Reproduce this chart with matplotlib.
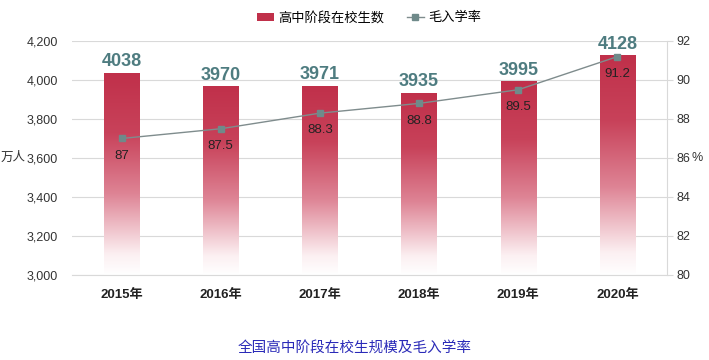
import matplotlib
matplotlib.use("Agg")
import matplotlib.pyplot as plt
import numpy as np
from matplotlib.colors import LinearSegmentedColormap
from matplotlib.patches import Patch
from matplotlib.lines import Line2D

plt.rcParams["font.family"] = ["Liberation Sans", "Noto Sans CJK SC", "DejaVu Sans"]

years = ["2015年", "2016年", "2017年", "2018年", "2019年", "2020年"]
students = [4038, 3970, 3971, 3935, 3995, 4128]
enroll_rate = [87, 87.5, 88.3, 88.8, 89.5, 91.2]

BAR_COLOR = "#c0304a"
LINE_COLOR = "#7f8c8d"
LABEL_COLOR = "#4e7c80"

fig = plt.figure(figsize=(7.09, 3.6), dpi=100)
ax = fig.add_axes([72 / 709, 1 - 275 / 360, 595 / 709, 234 / 360])
ax2 = ax.twinx()

x = np.arange(len(years))
bars = ax.bar(x, students, width=0.355, color="none", zorder=2)

# gradient fill: solid at top, fading to white near the base
cmap = LinearSegmentedColormap.from_list(
    "fade", [(0.0, "#ffffff"), (0.1, "#fcf0f2"), (0.4, "#de8495"),
             (0.7, "#c8425a"), (1.0, BAR_COLOR)])
grad = np.linspace(0, 1, 256).reshape(-1, 1)
for b in bars:
    bx, bw, h = b.get_x(), b.get_width(), b.get_height()
    im = ax.imshow(grad, cmap=cmap, aspect="auto", origin="lower",
                   extent=[bx, bx + bw, 3000, h], zorder=2)
    im.set_clip_path(b)
ax.set_xlim(-0.5, len(years) - 0.5)
ax.set_ylim(3000, 4200)

for xi, v in zip(x, students):
    ax.text(xi, v + 12, str(v), ha="center", va="bottom", fontsize=13,
            fontweight="bold", color=LABEL_COLOR, zorder=5)

ax.set_yticks(np.arange(3000, 4201, 200))
ax.set_yticklabels([f"{v:,}" for v in range(3000, 4201, 200)], fontsize=9)
ax.set_xticks(x)
ax.set_xticklabels(years, fontsize=9.5, fontweight="bold")
ax.grid(axis="y", color="#d9d9d9", linewidth=0.8, zorder=0)
ax.set_axisbelow(True)
ax.tick_params(axis="y", length=0, pad=10, colors="#333333")
ax.tick_params(axis="x", length=0, pad=10, colors="#222222")
for s in ["top", "left", "right"]:
    ax.spines[s].set_visible(False)
ax.spines["bottom"].set_color("#d9d9d9")

ax2.plot(x, enroll_rate, color=LINE_COLOR, linewidth=1, marker="s",
         markersize=5, markerfacecolor="#6f8a8a", markeredgecolor="#6f8a8a", zorder=4)
ax2.set_ylim(80, 92)
ax2.set_yticks(np.arange(80, 93, 2))
ax2.tick_params(axis="y", length=4, width=0.8, pad=2.5, labelsize=9,
                color="#d9d9d9", labelcolor="#333333")
for s in ["top", "left", "bottom"]:
    ax2.spines[s].set_visible(False)
ax2.spines["right"].set_color("#d9d9d9")
for xi, v in zip(x, enroll_rate):
    ax2.annotate(f"{v:g}", (xi, v), xytext=(0, -8), textcoords="offset points",
                 ha="center", va="top", fontsize=9.5, color="#222222", zorder=5)

fig.text(1 / 709, 1 - 158 / 360, "万人", fontsize=9, ha="left", va="center", color="#333333")
fig.text(692 / 709, 1 - 158 / 360, "%", fontsize=9, ha="left", va="center", color="#333333")

handles = [Patch(facecolor=BAR_COLOR, edgecolor="none"),
           Line2D([0], [0], color=LINE_COLOR, linewidth=1, marker="s", markersize=4,
                  markerfacecolor="#6f8a8a", markeredgecolor="#6f8a8a")]
fig.legend(handles, ["高中阶段在校生数", "毛入学率"], loc="center",
           bbox_to_anchor=(369 / 709, 1 - 18 / 360), ncol=2, frameon=False,
           fontsize=9.5, handlelength=1.3, handleheight=0.5, handletextpad=0.3,
           columnspacing=1.7)

fig.text(355 / 709, 1 - 348 / 360, "全国高中阶段在校生规模及毛入学率", fontsize=10.5,
         ha="center", va="center", color="#2a2ab8")

fig.savefig("out.png", dpi=100)
